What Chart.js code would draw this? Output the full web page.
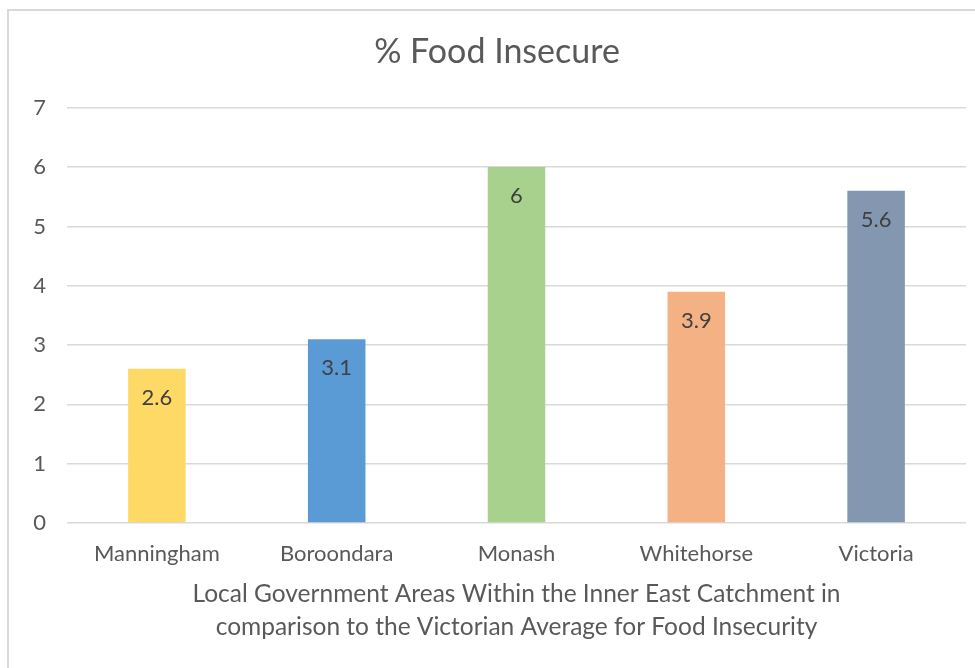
<!DOCTYPE html>
<html>
<head>
<meta charset="utf-8">
<script src="https://cdn.jsdelivr.net/npm/chart.js@4"></script>
<style>
  html, body { margin: 0; padding: 0; background: #fff; overflow: hidden; }
  #frame {
    position: absolute; left: 7px; top: 9px; width: 1000px; height: 700px;
    border-left: 2px solid #d9d9d9; border-top: 2px solid #d9d9d9;
  }
  #wrap { position: absolute; left: 0; top: 0; width: 975px; height: 668px; }
</style>
</head>
<body>
<div id="frame"></div>
<div id="wrap"><canvas id="myChart"></canvas></div>
<script>
// Chart data
// =======================================================
var areas = ["Manningham", "Boroondara", "Monash", "Whitehorse", "Victoria"];
var foodInsecure = [2.6, 3.1, 6, 3.9, 5.6];
var barColours = ["#FFD966", "#5B9BD5", "#A9D18E", "#F4B183", "#8497B0"];
var yTicks = [0, 1, 2, 3, 4, 5, 6, 7];

var textGrey = "#595959";
var fontName = "Lato, 'Noto Sans', sans-serif";

// Value labels just inside the top of each bar
// =======================================================
var valueLabels = {
    id: "valueLabels",
    afterDatasetsDraw: function (chart) {
        var ctx = chart.ctx;
        var meta = chart.getDatasetMeta(0);
        ctx.save();
        ctx.font = "22px " + fontName;
        ctx.fillStyle = "#404040";
        ctx.textAlign = "center";
        ctx.textBaseline = "middle";
        meta.data.forEach(function (bar, i) {
            ctx.fillText(String(foodInsecure[i]), bar.x, bar.y + 29);
        });
        ctx.restore();
    }
};

var ctx = document.getElementById("myChart");

var myChart = new Chart(ctx, {
    type: "bar",
    data: {
        labels: areas,
        datasets: [{
            label: "% Food Insecure",
            data: foodInsecure,
            backgroundColor: barColours,
            borderWidth: 0,
            categoryPercentage: 1,
            barPercentage: 0.32
        }]
    },
    options: {
        responsive: true,
        maintainAspectRatio: false,
        animation: false,
        layout: {
            padding: { left: 28, right: 9, top: 0, bottom: 0 }
        },
        plugins: {
            legend: { display: false },
            tooltip: { enabled: false },
            title: {
                display: true,
                text: "% Food Insecure",
                color: textGrey,
                font: { family: fontName, size: 34, weight: "normal" },
                padding: { top: 32, bottom: 35 }
            }
        },
        scales: {
            y: {
                min: 0,
                max: 7,
                afterBuildTicks: function (scale) {
                    scale.ticks = yTicks.map(function (v) { return { value: v }; });
                },
                afterFit: function (scale) { scale.width = 39; },
                border: { display: false },
                grid: { color: "#d9d9d9", lineWidth: 1.5, drawTicks: false },
                ticks: {
                    color: textGrey,
                    padding: 21,
                    font: { family: fontName, size: 22 }
                }
            },
            x: {
                afterFit: function (scale) { scale.height = 145; },
                border: { display: false },
                grid: { display: false, drawTicks: false },
                ticks: {
                    color: textGrey,
                    padding: 18,
                    font: { family: fontName, size: 22 }
                },
                title: {
                    display: true,
                    text: ["Local Government Areas Within the Inner East Catchment in",
                           "comparison to the Victorian Average for Food Insecurity"],
                    color: textGrey,
                    font: { family: fontName, size: 24.5, lineHeight: 1.347 },
                    padding: { top: 8, bottom: 24 }
                }
            }
        }
    },
    plugins: [valueLabels]
});
</script>
</body>
</html>
